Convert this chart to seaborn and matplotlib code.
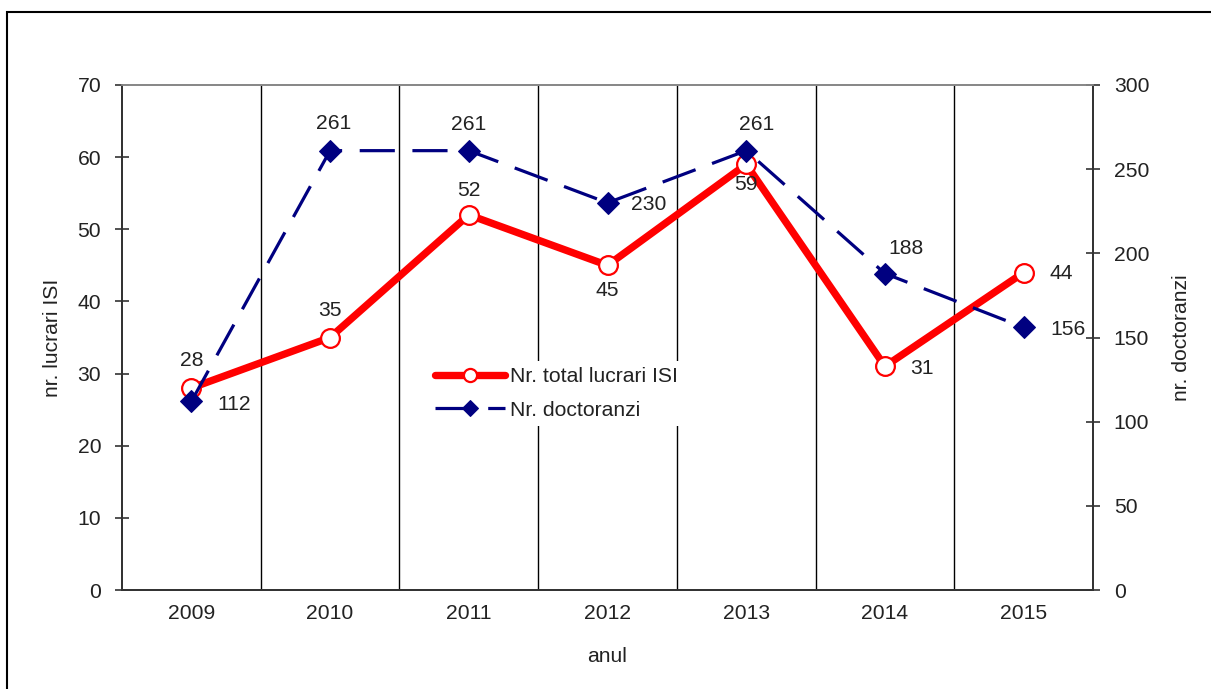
import matplotlib
matplotlib.use("Agg")
import matplotlib.pyplot as plt
import seaborn as sns
import pandas as pd
from matplotlib.patches import Rectangle

years = [2009, 2010, 2011, 2012, 2013, 2014, 2015]
lucrari = [28, 35, 52, 45, 59, 31, 44]
doctoranzi = [112, 261, 261, 230, 261, 188, 156]

left_ticks = [0, 10, 20, 30, 40, 50, 60, 70]
right_ticks = [0, 50, 100, 150, 200, 250, 300]

sns.set_theme(style="white")
plt.rcParams['font.family'] = ['Liberation Sans', 'DejaVu Sans']

df = pd.DataFrame({"anul": years, "lucrari": lucrari, "doctoranzi": doctoranzi})

fig = plt.figure(figsize=(12.11, 6.89), dpi=100)
ax1 = fig.add_axes([122/1211, 1-590/689, (1093-122)/1211, (590-85)/689])
ax2 = ax1.twinx()

FS = 15.2
TC = '#222222'

sns.lineplot(data=df, x="anul", y="lucrari", ax=ax1, color='#ff0000', linewidth=5.3,
             marker='o', markersize=13.5, markerfacecolor='white', markeredgecolor='#ff0000',
             markeredgewidth=1.6, label='Nr. total lucrari ISI', legend=False)
sns.lineplot(data=df, x="anul", y="doctoranzi", ax=ax2, color='#000080', linewidth=2.3,
             linestyle=(0, (11, 5.5)), marker='D', markersize=11, markerfacecolor='#000080',
             markeredgecolor='#000080', label='Nr. doctoranzi', legend=False)

ax1.set_xlim(2008.5, 2015.5)
ax1.set_ylim(0, 70)
ax2.set_ylim(0, 300)
ax1.set_yticks(left_ticks)
ax2.set_yticks(right_ticks)
ax1.set_xticks(years)
ax1.set_xticks([y + 0.5 for y in years[:-1]], minor=True)
ax1.xaxis.grid(True, which='minor', color='black', linewidth=1.0)
ax1.yaxis.grid(False)
ax2.grid(False)

for ax in (ax1, ax2):
    for s in ax.spines.values():
        s.set_visible(True)
        s.set_color('#333333')
        s.set_linewidth(1.3)
    ax.spines['top'].set_color('#888888')

ax1.tick_params(axis='x', which='major', length=0, labelsize=FS, labelcolor=TC, pad=10)
ax1.tick_params(axis='x', which='minor', length=5, direction='out', color='#333333', width=1.2)
ax1.tick_params(axis='y', length=10, direction='inout', color='#333333', width=1.2,
                labelsize=FS, labelcolor=TC, pad=10, left=True)
ax2.tick_params(axis='y', length=10, direction='inout', color='#333333', width=1.2,
                labelsize=FS, labelcolor=TC, pad=10, right=True)

ax1.set_xlabel('anul', fontsize=FS, color=TC, labelpad=17)
ax1.set_ylabel('nr. lucrari ISI', fontsize=FS, color=TC, labelpad=11)
ax2.set_ylabel('nr. doctoranzi', fontsize=FS, color=TC, labelpad=16)

red_off = [(0, 28), (0, 27), (0, 24), (0, -25), (0, -20), (37, -2), (38, -1)]
blue_off = [(43, -3), (4, 27), (0, 26), (41, -2), (10, 26), (21, 25), (44, -2)]
for x, v, (dx, dy) in zip(years, lucrari, red_off):
    ax1.annotate(str(v), (x, v), xytext=(dx * 0.72, dy * 0.72), textcoords='offset points',
                 ha='center', va='center', fontsize=FS, color=TC)
for x, v, (dx, dy) in zip(years, doctoranzi, blue_off):
    ax2.annotate(str(v), (x, v), xytext=(dx * 0.72, dy * 0.72), textcoords='offset points',
                 ha='center', va='center', fontsize=FS, color=TC)

h1, l1 = ax1.get_legend_handles_labels()
h2, l2 = ax2.get_legend_handles_labels()
leg = ax2.legend(h1 + h2, l1 + l2, loc='upper left', bbox_to_anchor=((418-122)/971, (590-350)/505),
                 frameon=True, facecolor='white', edgecolor='none', framealpha=1, fancybox=False,
                 fontsize=FS, handlelength=3.3, handletextpad=0.25, labelspacing=0.7,
                 borderpad=0.3, labelcolor=TC, markerscale=0.7)
leg.set_zorder(10)

fig.patches.append(Rectangle((7/1211, -0.05), 1.1, (689-12)/689 + 0.05, transform=fig.transFigure,
                             fill=False, edgecolor='black', linewidth=1.5))

fig.savefig('out.png', dpi=100)
